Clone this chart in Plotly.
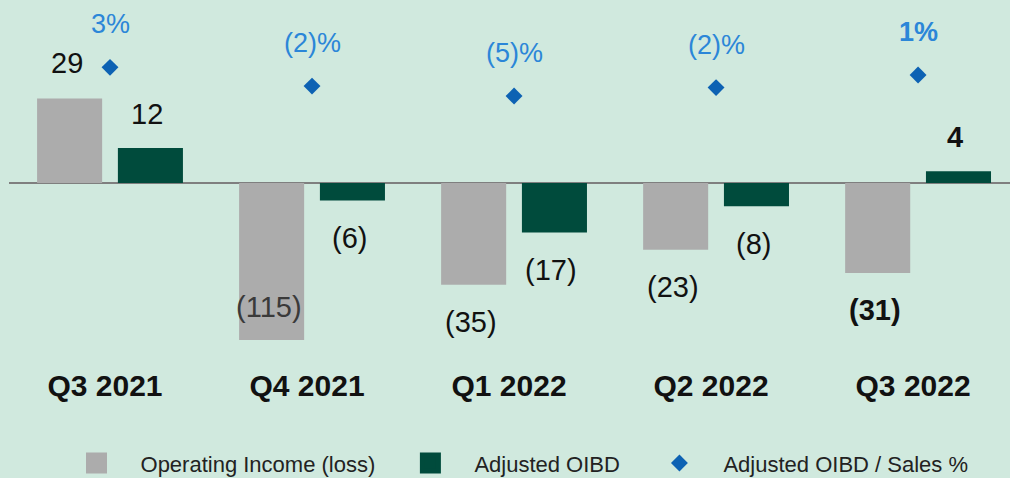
import plotly.graph_objects as go

quarters = ["Q3 2021", "Q4 2021", "Q1 2022", "Q2 2022", "Q3 2022"]
operating_income = [29, -115, -35, -23, -31]
adjusted_oibd = [12, -6, -17, -8, 4]
oibd_sales_pct = [3.1, -2.0, -4.7, -2.4, 1.0]
oi_labels = ["29", "(115)", "(35)", "(23)", "<b>(31)</b>"]
oibd_labels = ["12", "(6)", "(17)", "(8)", "<b>4</b>"]
pct_labels = ["3%", "(2)%", "(5)%", "(2)%", "<b>1%</b>"]
series_names = ["Operating Income (loss)", "Adjusted OIBD", "Adjusted OIBD / Sales %"]

BG = "#d0e9de"
GREY = "#acacac"
GREEN = "#004b3c"
BLUE = "#0d62b3"
PCT_TXT = "#2b86d8"
FONT = "Liberation Sans, Arial, sans-serif"
NB = "\u00a0"

Y1_RANGE = [-54.0, 62.9]
Y2_RANGE = [-71.0, 21.4]
BAR_OFF = 0.2

fig = go.Figure()
fig.add_trace(go.Bar(x=quarters, y=operating_income, name=series_names[0], showlegend=False,
                     marker=dict(color=GREY, line=dict(width=0)), cliponaxis=True))
fig.add_trace(go.Bar(x=quarters, y=adjusted_oibd, name=series_names[1], showlegend=False,
                     marker=dict(color=GREEN, line=dict(width=0))))
fig.add_trace(go.Scatter(x=quarters, y=oibd_sales_pct, name=series_names[2],
                         mode="markers", yaxis="y2", legendrank=3,
                         marker=dict(symbol="diamond", size=13, color=BLUE)))
# legend keys for the two bar series (larger square swatches)
fig.add_trace(go.Scatter(x=[None], y=[None], mode="markers", name=series_names[0] + NB,
                         legendrank=1, hoverinfo="skip",
                         marker=dict(symbol="square", size=16, color=GREY,
                                     line=dict(width=5, color=GREY))))
fig.add_trace(go.Scatter(x=[None], y=[None], mode="markers", name=series_names[1] + NB + "\u2009",
                         legendrank=2, hoverinfo="skip",
                         marker=dict(symbol="square", size=16, color=GREEN,
                                     line=dict(width=5, color=GREEN))))

annotations = []
for i, (v, t) in enumerate(zip(operating_income, oi_labels)):
    clipped = v < Y1_RANGE[0]
    yy = max(v, Y1_RANGE[0])
    if clipped:
        ys, col = 33, "#3a3a3a"
    else:
        ys, col = (36 if v >= 0 else -37), "#111111"
    annotations.append(dict(x=i - BAR_OFF, y=yy, xref="x", yref="y", text=t,
                            showarrow=False, yshift=ys, xshift=-3,
                            font=dict(size=29, color=col, family=FONT)))
for i, (v, t) in enumerate(zip(adjusted_oibd, oibd_labels)):
    ys = 34 if v >= 0 else -38
    annotations.append(dict(x=i + BAR_OFF, y=v, xref="x", yref="y", text=t,
                            showarrow=False, yshift=ys, xshift=-3,
                            font=dict(size=29, color="#111111", family=FONT)))
for i, (v, t) in enumerate(zip(oibd_sales_pct, pct_labels)):
    annotations.append(dict(x=i, y=v, xref="x", yref="y2", text=t,
                            showarrow=False, yshift=43,
                            font=dict(size=27, color=PCT_TXT, family=FONT)))

fig.update_layout(
    width=1010, height=478,
    margin=dict(l=9, r=0, t=0, b=138),
    paper_bgcolor=BG, plot_bgcolor=BG,
    barmode="group", bargap=0.2, bargroupgap=0.195,
    font=dict(family=FONT, color="#222222"),
    showlegend=True,
    legend=dict(orientation="h", xref="container", yref="container",
                x=0.052, y=0.031, xanchor="left", yanchor="middle",
                itemwidth=78, font=dict(size=22, color="#222222", family=FONT),
                bgcolor="rgba(0,0,0,0)", traceorder="normal"),
    xaxis=dict(type="category", range=[-0.5, 4.455], showgrid=False, zeroline=False,
               showline=False, ticks="", ticklabelstandoff=25, ticklabelshift=-5,
               tickfont=dict(size=30, color="#111111", family=FONT),
               tickvals=quarters, ticktext=["<b>" + q + "</b>" for q in quarters]),
    yaxis=dict(range=Y1_RANGE, showgrid=False, showticklabels=False, ticks="",
               zeroline=True, zerolinecolor="#7f7f7f", zerolinewidth=2, showline=False),
    yaxis2=dict(range=Y2_RANGE, overlaying="y", side="right", showgrid=False,
                showticklabels=False, zeroline=False, ticks="", showline=False),
    annotations=annotations,
)

fig.write_html("out.html", config={"displayModeBar": False},
               post_script="document.body.style.margin='0';")
